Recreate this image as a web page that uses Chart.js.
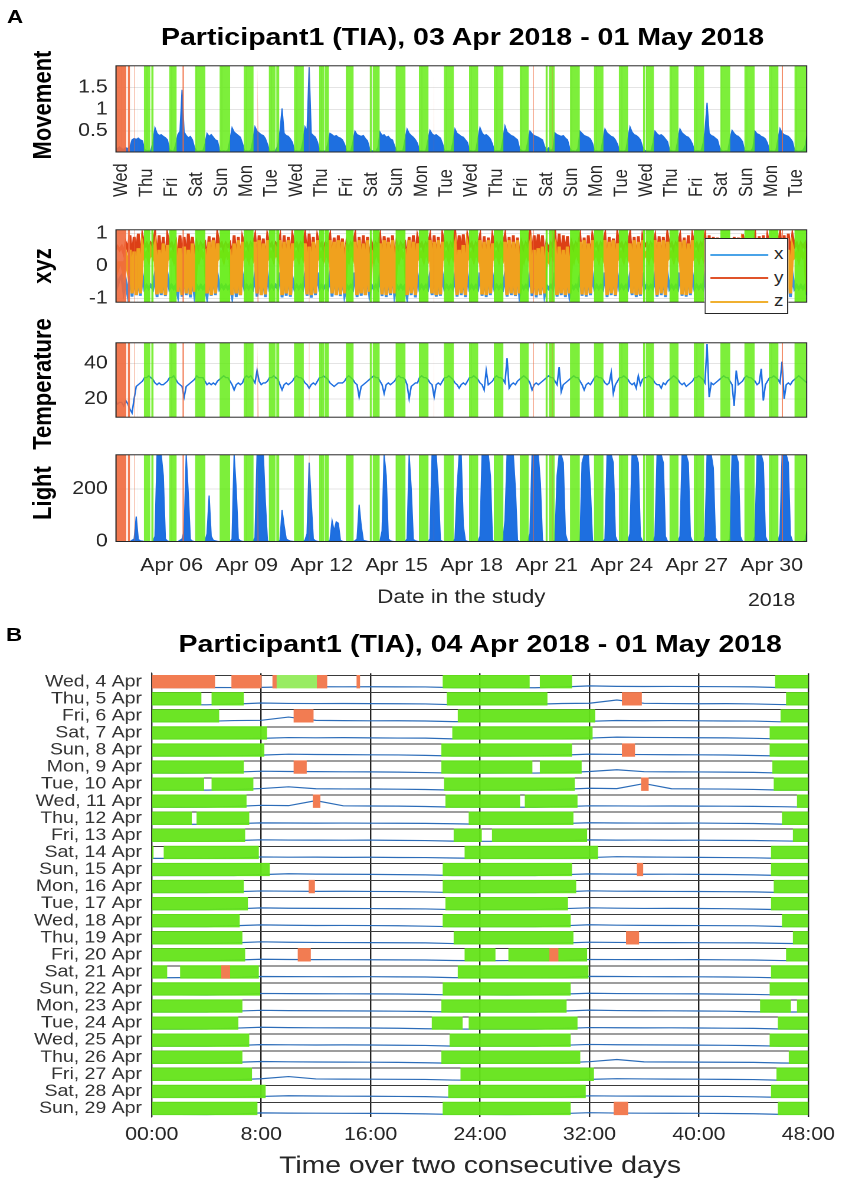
<!DOCTYPE html>
<html>
<head>
<meta charset="utf-8">
<title>Participant1 (TIA)</title>
<script src="https://cdn.jsdelivr.net/npm/chart.js@4.4.1/dist/chart.umd.min.js"></script>
<style>
  body { margin: 0; background: #fff; }
  /* the original figure is stretched horizontally, so the whole page is too */
  #fig { position: absolute; left: 0; top: 0; width: 730px; height: 1200px;
         transform: scaleX(1.18); transform-origin: 0 0;
         font-family: "Liberation Sans", Arial, sans-serif; color: #000; }
  #fig canvas { position: absolute; left: 0; }
  .t { position: absolute; white-space: nowrap; }
  .panel { font-weight: bold; font-size: 19px; line-height: 20px; }
  .title { font-weight: bold; font-size: 24.2px; width: 800px; text-align: center; line-height: 28px; }
  .ylab { font-weight: bold; font-size: 22px; line-height: 24px; transform: translate(-50%, -50%) rotate(-90deg); }
  #leg { position: absolute; left: 597px; top: 238px; width: 69px; height: 74px; border: 1px solid #262626; background: #fff; }
  #leg div { position: absolute; left: 4px; font-size: 16px; line-height: 16px; color: #262626; }
  #leg i { display: inline-block; width: 49px; border-top: 2px solid; vertical-align: middle; margin-right: 5px; }
</style>
</head>
<body>
<div id="fig">
  <div class="t panel" style="left:6px;top:7px">A</div>
  <div class="t title" style="left:-8px;top:23px">Participant1 (TIA), 03 Apr 2018 - 01 May 2018</div>
  <div class="t ylab" style="left:36px;top:105px">Movement</div>
  <div class="t ylab" style="left:36px;top:266px">xyz</div>
  <div class="t ylab" style="left:36px;top:384px">Temperature</div>
  <div class="t ylab" style="left:36px;top:493px">Light</div>
  <canvas id="cMov" width="730" height="160" style="top:48px"></canvas>
  <canvas id="cXyz" width="730" height="108" style="top:212px"></canvas>
  <canvas id="cTemp" width="730" height="110" style="top:325px"></canvas>
  <canvas id="cLight" width="730" height="178" style="top:437px"></canvas>
  <div id="leg"></div>

  <div class="t panel" style="left:5px;top:625px">B</div>
  <div class="t title" style="left:7px;top:630px">Participant1 (TIA), 04 Apr 2018 - 01 May 2018</div>
  <canvas id="cAct" width="730" height="535" style="top:655px"></canvas>
</div>

<script>
// ---------------- data ----------------
// one sample every 2 h, first one on 03 Apr 2018 18:00
const firstSampleHour = 18;     // hours after 03 Apr 00:00
const sampleStepHours = 2;

const movement = [
  0.12,0.1,0.14,                                               // 03 Apr 18-22h
  0.1,0.08,0.12,0.1,0.15,0.3,0.33,0.31,0.34,0.3,0.28,0.08,     // 04 Apr
  0.05,0.06,0.04,0.25,0.58,0.45,0.4,0.42,0.38,0.35,0.3,0.07,
  0.05,0.04,0.2,0.42,0.5,1.45,0.48,0.4,0.35,0.38,0.3,0.12,
  0.05,0.04,0.05,0.05,0.2,0.45,0.38,0.42,0.36,0.3,0.28,0.06,
  0.04,0.05,0.04,0.06,0.3,0.58,0.48,0.44,0.4,0.36,0.22,0.05,
  0.05,0.04,0.06,0.3,0.6,0.5,0.46,0.42,0.4,0.33,0.2,0.05,
  0.04,0.05,0.05,0.18,0.5,1.02,0.45,0.4,0.38,0.32,0.24,0.05,   // 10 Apr
  0.05,0.04,0.05,0.26,0.6,0.5,1.97,0.45,0.4,0.36,0.25,0.06,
  0.05,0.05,0.04,0.22,0.45,0.42,0.38,0.4,0.36,0.34,0.3,0.2,
  0.05,0.04,0.05,0.25,0.5,0.42,0.4,0.38,0.4,0.33,0.28,0.1,
  0.05,0.05,0.04,0.12,0.48,0.4,0.42,0.36,0.38,0.32,0.3,0.16,
  0.05,0.04,0.05,0.05,0.3,0.55,0.45,0.4,0.36,0.3,0.22,0.05,
  0.05,0.04,0.05,0.28,0.52,0.44,0.4,0.42,0.38,0.34,0.22,0.05,
  0.05,0.05,0.04,0.24,0.55,0.45,0.42,0.38,0.36,0.3,0.24,0.06,
  0.05,0.04,0.06,0.32,0.58,0.46,0.4,0.42,0.38,0.32,0.2,0.05,
  0.05,0.05,0.05,0.3,0.62,0.48,0.44,0.4,0.38,0.34,0.3,0.1,
  0.05,0.04,0.05,0.26,0.5,0.44,0.4,0.38,0.36,0.33,0.3,0.15,    // 20 Apr
  0.06,0.12,0.05,0.1,0.46,0.42,0.4,0.38,0.4,0.34,0.3,0.12,
  0.05,0.05,0.04,0.1,0.5,0.45,0.4,0.38,0.36,0.32,0.22,0.05,
  0.05,0.04,0.05,0.3,0.55,0.46,0.42,0.38,0.36,0.3,0.2,0.05,
  0.05,0.04,0.06,0.32,0.6,0.48,0.42,0.4,0.36,0.3,0.14,0.06,
  0.05,0.05,0.04,0.22,0.5,0.44,0.4,0.42,0.38,0.32,0.26,0.07,
  0.05,0.04,0.05,0.3,0.55,0.46,0.42,0.38,0.36,0.3,0.2,0.05,
  0.05,0.05,0.04,0.2,0.5,1.15,0.45,0.4,0.38,0.34,0.3,0.12,
  0.05,0.04,0.05,0.05,0.32,0.52,0.45,0.4,0.38,0.33,0.26,0.06,
  0.05,0.05,0.04,0.12,0.5,0.44,0.42,0.38,0.36,0.32,0.22,0.05,
  0.05,0.04,0.05,0.3,0.56,0.46,0.42,0.4,0.38,0.33,0.26,0.07,   // 30 Apr
  0.05,0.04,0.05,0.06,0.15,0.4                                 // 01 May 0-10h
];

const temperature = [
  19,17,18,
  18,16,19,17,14,12,20,27,28,29,30,32,
  32,33,32,31,29,28,29,28,28,29,30,32,
  32,33,31,29,28,27,21,27,28,29,30,31,
  33,32,32,32,30,28,29,28,29,28,30,31,
  32,33,32,32,30,28,25,28,29,28,29,32,
  33,32,33,31,29,36,30,28,29,29,30,32,
  32,33,32,31,28,25,28,29,28,29,30,32,
  33,32,32,31,29,28,26,28,29,28,30,32,
  32,33,32,31,29,28,27,28,29,29,29,30,
  32,33,32,31,29,28,21,27,28,29,30,31,
  32,33,32,32,30,28,23,28,29,28,29,30,
  32,33,32,32,31,28,20,27,28,29,29,32,
  33,32,32,31,29,28,21,28,29,28,30,32,
  32,33,32,31,29,28,26,28,29,28,30,32,
  32,33,32,31,29,28,25,36,28,29,30,32,
  33,32,32,31,29,43,26,28,29,28,30,31,
  32,33,32,31,29,25,28,29,28,29,30,31,
  32,33,32,32,30,28,38,24,28,29,30,31,
  32,33,32,32,30,28,25,28,29,28,30,32,
  33,32,32,31,29,28,29,35,23,28,30,32,
  32,33,32,31,29,28,29,26,33,28,31,32,
  32,33,32,31,29,28,28,26,29,28,30,31,
  32,33,32,31,29,28,29,27,28,29,30,32,
  32,33,32,31,29,51,21,29,28,29,30,31,
  32,33,32,32,30,28,16,36,28,29,30,32,
  33,32,32,31,30,28,29,37,19,28,30,32,
  32,33,32,31,29,41,20,28,29,28,30,31,
  32,33,32,31,30,29
];

const light = [
  0,0,0,
  0,0,0,0,0,5,10,95,8,3,2,0,
  0,0,0,0,20,330,330,330,250,10,2,0,
  0,0,0,0,5,10,40,330,180,8,2,0,
  0,0,0,0,0,30,175,20,5,3,1,0,
  0,0,0,0,0,10,330,200,10,3,1,0,
  0,0,0,0,15,330,330,330,330,150,2,0,
  0,0,0,0,5,120,60,10,5,2,1,0,
  0,0,0,0,5,30,300,150,10,3,1,0,
  0,0,0,0,5,80,40,75,70,5,1,0,
  0,0,0,0,3,10,140,60,5,3,1,0,
  0,0,0,0,2,40,330,250,10,3,1,0,
  0,0,0,0,0,10,330,200,8,3,1,0,
  0,0,0,0,10,330,330,330,200,5,1,0,
  0,0,0,0,10,200,330,330,60,4,1,0,
  0,0,0,0,20,330,330,330,330,250,5,0,
  0,0,0,0,80,330,330,330,330,200,5,0,
  0,0,0,0,30,330,330,330,330,220,3,0,
  0,0,0,0,5,250,330,330,300,30,1,0,
  0,0,0,0,5,300,330,330,330,200,3,0,
  0,0,0,0,10,330,330,330,300,20,1,0,
  0,0,0,0,30,330,330,330,300,20,1,0,
  0,0,0,0,20,330,330,330,300,20,1,0,
  0,0,0,0,20,330,330,330,300,20,1,0,
  0,0,0,0,20,330,330,330,280,15,1,0,
  0,0,0,0,10,330,330,330,300,20,1,0,
  0,0,0,0,20,330,330,330,300,20,1,0,
  0,0,0,0,30,330,330,330,300,25,1,0,
  0,0,0,0,5,40
];

const accZ = [
  0.2,-0.1,0.1,
  0.1,-0.2,0.3,-0.1,0.5,-0.85,0.45,-0.9,0.55,-0.85,0.6,0.3,
  0.4,0.2,0.5,0.3,0.6,-0.88,0.5,-0.85,0.7,-0.9,0.65,0.3,
  0.4,0.2,0.5,-0.8,0.55,-0.9,0.6,-0.85,0.5,-0.88,0.7,-0.8,
  0.4,0.2,0.5,0.3,0.4,-0.85,0.75,-0.9,0.8,-0.85,0.7,0.3,
  0.4,0.2,0.5,0.3,0.4,-0.9,0.7,-0.85,0.8,-0.9,0.75,0.3,
  0.4,0.2,0.5,0.3,0.75,-0.85,0.8,-0.9,0.7,-0.88,0.8,0.3,
  0.4,0.2,0.5,0.3,0.8,-0.9,0.75,-0.85,0.8,-0.9,0.7,0.3,
  0.4,0.2,0.5,0.3,0.7,-0.88,0.6,-0.9,0.75,-0.85,0.8,0.3,
  0.4,0.2,0.5,0.3,0.8,-0.85,0.75,-0.9,0.8,-0.88,0.75,-0.85,
  0.4,0.2,0.5,0.3,0.75,-0.9,0.8,-0.85,0.7,-0.9,0.8,-0.8,
  0.4,0.2,0.5,0.3,0.7,-0.88,0.8,-0.9,0.75,-0.85,0.8,-0.85,
  0.4,0.2,0.5,0.3,0.4,-0.9,0.8,-0.85,0.75,-0.9,0.7,0.3,
  0.4,0.2,0.5,0.3,0.8,-0.85,0.75,-0.9,0.8,-0.88,0.75,0.3,
  0.4,0.2,0.5,0.3,0.6,-0.9,0.5,-0.85,0.65,-0.9,0.6,0.3,
  0.4,0.2,0.5,0.3,0.8,-0.88,0.75,-0.9,0.8,-0.85,0.7,0.3,
  0.4,0.2,0.5,0.3,0.75,-0.9,0.8,-0.85,0.75,-0.9,0.8,-0.85,
  0.4,0.2,0.5,0.3,0.6,-0.85,0.5,-0.9,0.55,-0.88,0.6,-0.85,
  0.4,0.2,0.5,0.3,0.55,-0.9,0.6,-0.85,0.5,-0.9,0.6,-0.85,
  0.4,0.2,0.5,0.3,0.75,-0.88,0.8,-0.9,0.7,-0.85,0.8,0.3,
  0.4,0.2,0.5,0.3,0.8,-0.9,0.75,-0.85,0.8,-0.9,0.7,0.3,
  0.4,0.2,0.5,0.3,0.7,-0.85,0.8,-0.9,0.75,-0.88,0.8,0.3,
  0.4,0.2,0.5,0.3,0.8,-0.9,0.75,-0.85,0.8,-0.9,0.75,0.3,
  0.4,0.2,0.5,0.3,0.75,-0.88,0.8,-0.9,0.7,-0.85,0.8,0.3,
  0.4,0.2,0.5,0.3,0.8,-0.9,0.7,-0.85,0.75,-0.9,0.8,-0.85,
  0.4,0.2,0.5,0.3,0.4,-0.85,0.75,-0.9,0.8,-0.88,0.6,0.3,
  0.4,0.2,0.5,0.3,0.75,-0.9,0.8,-0.85,0.7,-0.9,0.75,0.3,
  0.4,0.2,0.5,0.3,0.5,-0.85,0.6,-0.9,0.5,-0.85,0.55,0.3,
  0.4,0.2,0.5,0.3,0.4,-0.8
];

const accY = [
  0.5,0.6,0.5,
  0.6,0.4,0.7,0.5,0.95,0.2,0.9,0.3,1.0,0.1,0.9,0.6,
  0.7,0.5,0.7,0.6,0.98,0.1,0.95,0.2,0.9,0.0,0.92,0.6,
  0.7,0.5,0.7,0.1,0.95,0.2,0.9,0.1,1.0,0.3,0.9,0.2,
  0.7,0.5,0.7,0.6,0.7,0.1,0.92,0.0,0.88,0.1,0.95,0.6,
  0.7,0.5,0.7,0.6,0.7,0.2,0.95,0.1,0.9,0.0,0.85,0.6,
  0.7,0.5,0.7,0.6,0.9,0.1,0.95,0.2,0.85,0.0,0.9,0.6,
  0.7,0.5,0.7,0.6,0.88,0.0,0.95,0.1,0.9,0.2,0.92,0.6,
  0.7,0.5,0.7,0.6,0.95,0.2,1.0,0.1,0.9,0.0,0.88,0.6,
  0.7,0.5,0.7,0.6,0.9,0.1,0.88,0.0,0.95,0.2,0.85,0.1,
  0.7,0.5,0.7,0.6,0.92,0.0,0.9,0.1,0.95,0.2,0.9,0.1,
  0.7,0.5,0.7,0.6,0.9,0.1,0.92,0.2,0.88,0.0,0.95,0.1,
  0.7,0.5,0.7,0.6,0.7,0.1,0.9,0.0,0.95,0.2,0.88,0.6,
  0.7,0.5,0.7,0.6,0.9,0.2,0.95,0.1,0.9,0.0,0.92,0.6,
  0.7,0.5,0.7,0.6,1.0,0.2,0.95,0.3,0.98,0.1,0.9,0.6,
  0.7,0.5,0.7,0.6,0.9,0.0,0.92,0.1,0.88,0.2,0.9,0.6,
  0.7,0.5,0.7,0.6,0.92,0.1,0.9,0.0,0.95,0.1,0.88,0.2,
  0.7,0.5,0.7,0.6,1.0,0.2,0.95,0.3,0.98,0.2,0.95,0.1,
  0.7,0.5,0.7,0.6,0.98,0.2,1.0,0.1,0.95,0.3,0.92,0.2,
  0.7,0.5,0.7,0.6,0.9,0.1,0.88,0.0,0.95,0.1,0.9,0.6,
  0.7,0.5,0.7,0.6,0.92,0.0,0.9,0.2,0.85,0.0,0.95,0.6,
  0.7,0.5,0.7,0.6,0.95,0.1,0.9,0.0,0.92,0.2,0.88,0.6,
  0.7,0.5,0.7,0.6,0.88,0.1,0.92,0.0,0.9,0.1,0.95,0.6,
  0.7,0.5,0.7,0.6,0.9,0.2,0.88,0.1,0.95,0.0,0.9,0.6,
  0.7,0.5,0.7,0.6,0.92,0.1,0.95,0.0,0.9,0.2,0.88,0.1,
  0.7,0.5,0.7,0.6,0.7,0.1,0.9,0.2,0.88,0.0,0.98,0.6,
  0.7,0.5,0.7,0.6,0.9,0.0,0.92,0.1,0.95,0.2,0.9,0.6,
  0.7,0.5,0.7,0.6,0.98,0.2,0.95,0.1,1.0,0.3,0.92,0.6,
  0.7,0.5,0.7,0.6,0.7,0.2
];

const accX = [
  -0.2,-0.6,-0.4,
  -0.3,-0.8,-0.5,-0.9,-0.3,-0.95,-0.2,-0.9,-0.4,-0.92,-0.3,-0.7,
  -0.6,-0.7,-0.6,-0.7,-0.3,-0.96,-0.2,-0.9,-0.35,-0.93,-0.3,-0.7,
  -0.6,-0.7,-0.6,-0.9,-0.3,-0.95,-0.2,-0.9,-0.3,-0.97,-0.4,-0.9,
  -0.6,-0.7,-0.6,-0.7,-0.6,-0.95,-0.3,-0.92,-0.2,-0.9,-0.3,-0.7,
  -0.6,-0.7,-0.6,-0.7,-0.6,-0.93,-0.2,-0.96,-0.3,-0.9,-0.3,-0.7,
  -0.6,-0.7,-0.6,-0.7,-0.3,-0.95,-0.2,-0.9,-0.35,-0.96,-0.3,-0.7,
  -0.6,-0.7,-0.6,-0.7,-0.2,-0.97,-0.3,-0.92,-0.2,-0.95,-0.4,-0.7,
  -0.6,-0.7,-0.6,-0.7,-0.3,-0.92,-0.2,-0.98,-0.3,-0.9,-0.2,-0.7,
  -0.6,-0.7,-0.6,-0.7,-0.3,-0.95,-0.2,-0.9,-0.3,-0.93,-0.3,-0.9,
  -0.6,-0.7,-0.6,-0.7,-0.2,-0.96,-0.3,-0.92,-0.2,-0.9,-0.3,-0.88,
  -0.6,-0.7,-0.6,-0.7,-0.3,-0.93,-0.2,-0.96,-0.3,-0.9,-0.2,-0.9,
  -0.6,-0.7,-0.6,-0.7,-0.6,-0.95,-0.3,-0.9,-0.2,-0.97,-0.3,-0.7,
  -0.6,-0.7,-0.6,-0.7,-0.3,-0.9,-0.2,-0.95,-0.3,-0.92,-0.3,-0.7,
  -0.6,-0.7,-0.6,-0.7,-0.3,-0.95,-0.2,-0.9,-0.3,-0.96,-0.3,-0.7,
  -0.6,-0.7,-0.6,-0.7,-0.2,-0.92,-0.3,-0.96,-0.2,-0.9,-0.3,-0.7,
  -0.6,-0.7,-0.6,-0.7,-0.3,-0.95,-0.2,-0.9,-0.3,-0.93,-0.2,-0.9,
  -0.6,-0.7,-0.6,-0.7,-0.3,-0.93,-0.2,-0.97,-0.3,-0.9,-0.3,-0.9,
  -0.6,-0.7,-0.6,-0.7,-0.2,-0.95,-0.3,-0.9,-0.2,-0.96,-0.3,-0.9,
  -0.6,-0.7,-0.6,-0.7,-0.3,-0.92,-0.2,-0.95,-0.3,-0.9,-0.3,-0.7,
  -0.6,-0.7,-0.6,-0.7,-0.2,-0.96,-0.3,-0.9,-0.2,-0.93,-0.3,-0.7,
  -0.6,-0.7,-0.6,-0.7,-0.3,-0.9,-0.2,-0.96,-0.3,-0.92,-0.2,-0.7,
  -0.6,-0.7,-0.6,-0.7,-0.3,-0.95,-0.2,-0.9,-0.3,-0.96,-0.3,-0.7,
  -0.6,-0.7,-0.6,-0.7,-0.2,-0.92,-0.3,-0.95,-0.2,-0.9,-0.3,-0.7,
  -0.6,-0.7,-0.6,-0.7,-0.3,-0.96,-0.2,-0.9,-0.3,-0.93,-0.2,-0.9,
  -0.6,-0.7,-0.6,-0.7,-0.6,-0.95,-0.3,-0.9,-0.2,-0.96,-0.3,-0.7,
  -0.6,-0.7,-0.6,-0.7,-0.3,-0.92,-0.2,-0.95,-0.3,-0.9,-0.3,-0.7,
  -0.6,-0.7,-0.6,-0.7,-0.2,-0.95,-0.3,-0.9,-0.2,-0.96,-0.3,-0.7,
  -0.6,-0.7,-0.6,-0.7,-0.6,-0.9
];

// sleep: night starting on the given April date, onset / offset in hours after that date's 00:00
const nightDate   = [4,5,6,7,8,9,10,11,12,13,14,15,16,17,18,19,20,21,22,23,24,25,26,27,28,29,30];
const sleepOnset  = [21.3,21.6,22.4,22.0,21.2,21.2,21.4,21.5,23.2,22.1,22.9,21.3,21.3,21.5,21.3,22.1,22.9,22.4,21.3,21.2,20.5,21.8,21.2,22.6,21.7,21.3,21.8];
const sleepOffset = [30.7,28.9,32.4,32.2,30.7,31.4,30.9,31.1,30.8,31.8,32.6,30.7,31.0,30.4,30.6,30.8,31.8,31.9,30.6,30.3,31.1,30.6,31.3,32.3,31.7,30.6,33.0];
// short awake spells inside a night
const wakeNight = [4, 9, 11, 13, 20, 24];
const wakeFrom  = [27.6, 27.8, 26.9, 24.1, 25.1, 22.7];
const wakeTo    = [28.4, 28.4, 27.3, 24.9, 26.1, 23.2];
// device not worn
const offDate = [4, 4, 4, 4, 4, 6, 9, 11, 16, 20, 21, 30];
const offFrom = [-5.4, 5.85, 8.85, 12.1, 15.0, 10.4, 10.4, 11.8, 11.5, 10.7, 5.1, 9.8];
const offTo   = [4.6, 8.0, 9.1, 12.8, 15.2, 11.8, 11.3, 12.3, 11.9, 11.6, 5.7, 10.8];
// daytime rest, shown in panel B
const restDate = [4];
const restFrom = [9.1];
const restTo   = [12.1];

const dayRange   = [0.775, 28.4];            // days after 03 Apr 00:00
const dayTicks   = [1,2,3,4,5,6,7,8,9,10,11,12,13,14,15,16,17,18,19,20,21,22,23,24,25,26,27,28];
const dateTicks  = [3,6,9,12,15,18,21,24,27];
const hourTicks  = [0,8,16,24,32,40,48];
const rowCount   = 26;                       // rows 04 Apr .. 29 Apr
const weekdays   = ['Sun','Mon','Tue','Wed','Thu','Fri','Sat'];
const legendLabels = ['x','y','z'];

// ---------------- helpers ----------------
const cGreen = 'rgba(96,236,16,0.82)';
const cGreenXyz = 'rgba(96,236,16,0.9)';
const cRed = 'rgba(240,105,60,0.9)';
const cBlue = '#1e6fe0';
const accColors = ['#3d8fe2', '#dc3f16', '#f0a11e'];
const legendColors = ['#4aa3e8', '#e0532a', '#f0b030'];

const toHour = (date, h) => (date - 3) * 24 + h;   // hours after 03 Apr 00:00
const weekdayOf = aprilDate => weekdays[(aprilDate - 1) % 7];   // 1 Apr 2018 was a Sunday

const sleepBouts = [];
nightDate.forEach((d, i) => {
  let parts = [[sleepOnset[i], sleepOffset[i]]];
  wakeNight.forEach((w, j) => {
    if (w === d) parts = [[sleepOnset[i], wakeFrom[j]], [wakeTo[j], sleepOffset[i]]];
  });
  parts.forEach(p => sleepBouts.push([toHour(d, p[0]), toHour(d, p[1])]));
});
const offBouts = offDate.map((d, i) => [toHour(d, offFrom[i]), toHour(d, offTo[i])]);
const restBouts = restDate.map((d, i) => [toHour(d, restFrom[i]), toHour(d, restTo[i])]);

const sampleHour = k => firstSampleHour + k * sampleStepHours;
const series = arr => arr.map((v, k) => ({ x: sampleHour(k) / 24, y: v }));

// shaded bands over the full height of a panel
function bandSet(bouts, top, color, order) {
  const pts = [];
  bouts.forEach(b => {
    pts.push({ x: b[0] / 24, y: top }, { x: b[1] / 24, y: top }, { x: b[1] / 24, y: null });
  });
  return { data: pts, fill: 'start', backgroundColor: color, borderWidth: 0, pointRadius: 0, spanGaps: false, order };
}

const frame = {
  id: 'frame',
  afterDraw(chart) {
    const a = chart.chartArea, ctx = chart.ctx;
    ctx.save();
    ctx.strokeStyle = '#262626';
    ctx.lineWidth = 1;
    ctx.strokeRect(a.left, a.top, a.right - a.left, a.bottom - a.top);
    ctx.restore();
  }
};

// weekday names under the movement panel, read bottom to top
const dayNames = {
  id: 'dayNames',
  afterDraw(chart) {
    const ctx = chart.ctx, xs = chart.scales.x;
    ctx.save();
    ctx.font = '16.5px "Liberation Sans", Arial, sans-serif';
    ctx.fillStyle = '#262626';
    ctx.textAlign = 'left';
    ctx.textBaseline = 'middle';
    dayTicks.forEach(d => {
      ctx.save();
      ctx.translate(xs.getPixelForValue(d), 149);
      ctx.rotate(-Math.PI / 2);
      ctx.fillText(weekdayOf(3 + d), 0, 0);
      ctx.restore();
    });
    ctx.restore();
  }
};

function panelOptions(o) {
  return {
    responsive: false, animation: false, devicePixelRatio: 2, events: [],
    layout: { padding: { top: o.padTop, bottom: o.padBottom || 0, left: 0, right: 46.4 } },
    plugins: { legend: { display: false }, tooltip: { enabled: false } },
    scales: {
      x: {
        type: 'linear', min: dayRange[0], max: dayRange[1],
        afterBuildTicks: s => { s.ticks = o.xTicks.map(v => ({ value: v })); },
        afterFit: s => { s.height = o.xHeight; },
        grid: { color: '#e4e4e4', drawTicks: false },
        border: { display: false },
        ticks: o.xTickOpts || { display: false },
        title: o.xTitle || { display: false }
      },
      y: {
        type: 'linear', min: o.yMin, max: o.yMax,
        afterBuildTicks: s => { s.ticks = o.yTicks.map(v => ({ value: v })); },
        afterFit: s => { s.width = 98.3; },
        grid: { color: '#e4e4e4', drawTicks: false },
        border: { display: false },
        ticks: { padding: 7, font: { size: 18 }, color: '#262626', callback: v => String(v) }
      }
    }
  };
}

Chart.defaults.font.family = '"Liberation Sans", Arial, sans-serif';
Chart.defaults.color = '#262626';

// ---------------- panel A ----------------
new Chart(document.getElementById('cMov'), {
  type: 'line',
  data: { datasets: [
    bandSet(offBouts, 2.0, cRed, 0),
    bandSet(sleepBouts, 2.0, cGreen, 1),
    { data: series(movement), borderColor: cBlue, backgroundColor: cBlue, borderWidth: 1, fill: 'start', pointRadius: 0, order: 2 }
  ] },
  options: panelOptions({ padTop: 10, xHeight: 56, xTicks: dayTicks, yMin: 0.02, yMax: 2.0, yTicks: [0.5, 1, 1.5] }),
  plugins: [frame, dayNames]
});

new Chart(document.getElementById('cXyz'), {
  type: 'line',
  data: { datasets: [
    bandSet(offBouts, 1.12, cRed, 0),
    bandSet(sleepBouts, 1.12, cGreenXyz, 1),
    { data: series(accZ), borderColor: accColors[2], borderWidth: 3, pointRadius: 0, fill: false, order: 2 },
    { data: series(accY), borderColor: accColors[1], borderWidth: 2.4, pointRadius: 0, fill: false, order: 3 },
    { data: series(accX), borderColor: accColors[0], borderWidth: 2.4, pointRadius: 0, fill: false, order: 4 }
  ] },
  options: panelOptions({ padTop: 8, padBottom: 7, xHeight: 0, xTicks: dateTicks, yMin: -1.12, yMax: 1.12, yTicks: [-1, 0, 1] }),
  plugins: [frame]
});

new Chart(document.getElementById('cTemp'), {
  type: 'line',
  data: { datasets: [
    bandSet(offBouts, 51.7, cRed, 0),
    bandSet(sleepBouts, 51.7, cGreen, 1),
    { data: series(temperature), borderColor: cBlue, borderWidth: 1.3, pointRadius: 0, fill: false, order: 2 }
  ] },
  options: panelOptions({ padTop: 8.3, padBottom: 8.3, xHeight: 0, xTicks: dateTicks, yMin: 9.6, yMax: 51.7, yTicks: [20, 40] }),
  plugins: [frame]
});

new Chart(document.getElementById('cLight'), {
  type: 'line',
  data: { datasets: [
    bandSet(offBouts, 330, cRed, 0),
    bandSet(sleepBouts, 330, cGreen, 1),
    { data: series(light), borderColor: cBlue, backgroundColor: cBlue, borderWidth: 1, fill: 'start', pointRadius: 0, order: 2 }
  ] },
  options: panelOptions({
    padTop: 8.5, xHeight: 73.5, xTicks: dateTicks, yMin: 0, yMax: 330, yTicks: [0, 200],
    xTickOpts: {
      display: true, autoSkip: false, maxRotation: 0, minRotation: 0, padding: 7,
      font: { size: 18, lineHeight: 1.95 }, color: '#262626',
      callback: v => {
        const lab = 'Apr ' + String(3 + v).padStart(2, '0');
        return v === dateTicks[dateTicks.length - 1] ? [lab, '2018'] : lab;
      }
    },
    xTitle: { display: true, text: 'Date in the study', font: { size: 19 }, color: '#262626', padding: { top: 0, bottom: 5.6 } }
  }),
  plugins: [frame]
});

// legend of the xyz panel
const leg = document.getElementById('leg');
legendLabels.forEach((lab, i) => {
  const row = document.createElement('div');
  row.style.top = (7 + i * 23.5) + 'px';
  row.innerHTML = '<i style="border-color:' + legendColors[i] + '"></i>' + lab;
  leg.appendChild(row);
});

// ---------------- panel B ----------------
const rowLabels = [];
for (let r = 0; r < rowCount; r++) rowLabels.push(weekdayOf(4 + r) + ', ' + (4 + r) + ' Apr');

function rowBars(bouts) {
  const out = [];
  for (let r = 0; r < rowCount; r++) {
    const h0 = (r + 1) * 24;
    bouts.forEach(b => {
      const a = Math.max(b[0], h0), e = Math.min(b[1], h0 + 48);
      if (e > a) out.push({ x: [a - h0, e - h0], y: r });
    });
  }
  return out;
}

const actSets = [
  { type: 'bar', data: rowBars(offBouts), backgroundColor: '#f27c52', stack: 'rows', barThickness: 12.7, order: 0 },
  { type: 'bar', data: rowBars(restBouts), backgroundColor: '#98ec62', stack: 'rows', barThickness: 12.7, order: 1 },
  { type: 'bar', data: rowBars(sleepBouts), backgroundColor: 'rgba(100,228,25,0.95)', stack: 'rows', barThickness: 12.7, order: 2 }
];
for (let r = 0; r < rowCount; r++) {
  const h0 = (r + 1) * 24, pts = [];
  movement.forEach((m, k) => {
    const h = sampleHour(k) - h0;
    if (h >= 0 && h <= 48) pts.push({ x: h, y: r + 0.36 - m * 0.2 });
  });
  actSets.push({ type: 'line', indexAxis: 'x', data: pts, borderColor: '#2c6cb8', borderWidth: 1.2, pointRadius: 0, fill: false, order: 3 });
}

const rowTicks = [];
for (let r = 0; r < rowCount; r++) rowTicks.push(r - 0.36, r);

new Chart(document.getElementById('cAct'), {
  type: 'bar',
  data: { datasets: actSets },
  options: {
    indexAxis: 'y', responsive: false, animation: false, devicePixelRatio: 2, events: [],
    layout: { padding: { top: 8, bottom: 0, left: 0, right: 45 } },
    plugins: { legend: { display: false }, tooltip: { enabled: false } },
    scales: {
      x: {
        type: 'linear', min: 0, max: 48, stacked: false, offset: false,
        afterBuildTicks: s => { s.ticks = hourTicks.map(v => ({ value: v })); },
        afterFit: s => { s.height = 73; },
        grid: { color: '#222', lineWidth: 1.2, drawTicks: false, offset: false },
        border: { display: false },
        ticks: { autoSkip: false, maxRotation: 0, padding: 7.2, font: { size: 18 }, color: '#262626',
                 callback: v => (v === 0 ? '00' : String(v)) + ':00' },
        title: { display: true, text: 'Time over two consecutive days', font: { size: 24 }, color: '#262626', padding: { top: 0, bottom: 9 } }
      },
      y: {
        type: 'linear', reverse: true, min: -0.5, max: 25.5, offset: false,
        afterBuildTicks: s => { s.ticks = rowTicks.map(v => ({ value: v })); },
        afterFit: s => { s.width = 128.6; },
        grid: { offset: false, drawTicks: false, lineWidth: 1,
                color: c => Number.isInteger(c.tick.value) ? 'rgba(0,0,0,0)' : '#3a3a3a' },
        border: { display: true, color: '#333', width: 1 },
        ticks: { autoSkip: false, padding: 8.3, font: { size: 16.5 }, color: '#333',
                 callback: v => Number.isInteger(v) ? rowLabels[v] : '' }
      }
    }
  }
});
</script>
</body>
</html>
